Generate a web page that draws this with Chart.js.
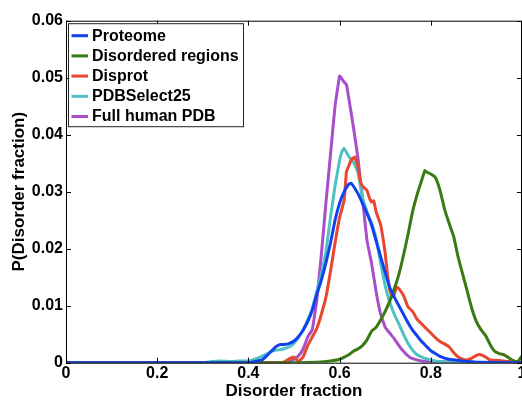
<!DOCTYPE html>
<html>
<head>
<meta charset="utf-8">
<script src="https://cdn.jsdelivr.net/npm/chart.js@4/dist/chart.umd.min.js"></script>
<style>
  html, body { margin: 0; padding: 0; background: #fff; overflow: hidden; }
  #wrap { width: 522px; height: 400px; overflow: hidden; position: relative; }
  #box { width: 540px; height: 410px; position: absolute; left: 0; top: 0; }
</style>
</head>
<body>
<div id="wrap"><div id="box"><canvas id="c"></canvas></div></div>
<script>
// --- data ---
const seriesNames = ['Proteome', 'Disordered regions', 'Disprot', 'PDBSelect25', 'Full human PDB'];
const seriesColors = ['#1242f0', '#3a7a12', '#e8462e', '#4dc2c2', '#a84ec9'];

const xTicks = [0, 0.2, 0.4, 0.6, 0.8, 1];
const xTickLabels = ['0', '0.2', '0.4', '0.6', '0.8', '1'];
const yTicks = [0, 0.01, 0.02, 0.03, 0.04, 0.05, 0.06];
const yTickLabels = ['0', '0.01', '0.02', '0.03', '0.04', '0.05', '0.06'];

const proteomeX = [0, 0.40, 0.42, 0.43, 0.44, 0.45, 0.46, 0.47, 0.48, 0.49, 0.50, 0.51, 0.52, 0.53, 0.54, 0.55, 0.56, 0.57, 0.58, 0.59, 0.60, 0.61, 0.62, 0.625, 0.63, 0.64, 0.65, 0.66, 0.67, 0.68, 0.69, 0.70, 0.71, 0.72, 0.73, 0.74, 0.75, 0.76, 0.77, 0.78, 0.79, 0.80, 0.81, 0.82, 0.83, 0.84, 0.85, 0.87, 0.90, 1.0];
const proteomeY = [0, 0, 0.0003, 0.0005, 0.0012, 0.002, 0.0028, 0.0032, 0.0032, 0.0034, 0.0038, 0.0046, 0.0057, 0.0072, 0.0092, 0.012, 0.0145, 0.0175, 0.021, 0.025, 0.028, 0.030, 0.0313, 0.0315, 0.031, 0.0297, 0.028, 0.0262, 0.0242, 0.0214, 0.0186, 0.0158, 0.0132, 0.0115, 0.0100, 0.0085, 0.007, 0.0057, 0.0047, 0.0037, 0.0029, 0.0021, 0.0016, 0.0011, 0.0008, 0.0006, 0.0005, 0.0003, 0.0001, 0];

const disorderedX = [0, 0.50, 0.55, 0.58, 0.60, 0.62, 0.63, 0.64, 0.65, 0.66, 0.67, 0.68, 0.69, 0.70, 0.71, 0.72, 0.73, 0.74, 0.75, 0.76, 0.77, 0.78, 0.787, 0.79, 0.80, 0.81, 0.82, 0.83, 0.84, 0.85, 0.86, 0.87, 0.88, 0.89, 0.90, 0.91, 0.92, 0.93, 0.94, 0.95, 0.96, 0.97, 0.98, 0.99, 1.0];
const disorderedY = [0, 0, 0.0001, 0.0003, 0.0006, 0.0014, 0.002, 0.0024, 0.003, 0.004, 0.0055, 0.0062, 0.0075, 0.009, 0.0108, 0.013, 0.0155, 0.0188, 0.0225, 0.0265, 0.0295, 0.032, 0.0337, 0.0335, 0.0331, 0.0325, 0.0303, 0.027, 0.0245, 0.0222, 0.0185, 0.0155, 0.0125, 0.0095, 0.0072, 0.0058, 0.0048, 0.0032, 0.002, 0.0016, 0.0014, 0.0009, 0.0004, 0.0001, 0.0012];

const disprotX = [0, 0.47, 0.48, 0.49, 0.50, 0.505, 0.51, 0.52, 0.53, 0.54, 0.55, 0.56, 0.57, 0.58, 0.59, 0.60, 0.61, 0.615, 0.62, 0.625, 0.633, 0.64, 0.645, 0.65, 0.66, 0.665, 0.67, 0.675, 0.68, 0.69, 0.70, 0.705, 0.71, 0.715, 0.72, 0.725, 0.73, 0.74, 0.75, 0.76, 0.77, 0.78, 0.79, 0.80, 0.81, 0.82, 0.83, 0.84, 0.85, 0.86, 0.87, 0.88, 0.89, 0.90, 0.91, 0.92, 0.93, 0.95, 0.97, 1.0];
const disprotY = [0, 0, 0.0002, 0.0007, 0.001, 0.0006, 0.0002, 0.001, 0.003, 0.0045, 0.006, 0.0085, 0.0115, 0.016, 0.021, 0.0255, 0.0285, 0.0335, 0.0345, 0.0355, 0.0361, 0.0345, 0.032, 0.031, 0.0302, 0.029, 0.0282, 0.0284, 0.0265, 0.0242, 0.0192, 0.0155, 0.0128, 0.0116, 0.012, 0.0133, 0.013, 0.0118, 0.0098, 0.009, 0.0076, 0.0068, 0.006, 0.0052, 0.0044, 0.0037, 0.0033, 0.0028, 0.0018, 0.001, 0.0006, 0.0005, 0.0008, 0.0013, 0.0014, 0.001, 0.0005, 0.0004, 0.0002, 0.0001];

const pdbSelectX = [0, 0.30, 0.32, 0.34, 0.36, 0.38, 0.40, 0.42, 0.44, 0.45, 0.46, 0.47, 0.48, 0.49, 0.50, 0.51, 0.52, 0.53, 0.54, 0.55, 0.56, 0.57, 0.58, 0.59, 0.60, 0.605, 0.61, 0.62, 0.63, 0.64, 0.65, 0.66, 0.67, 0.68, 0.69, 0.70, 0.71, 0.72, 0.73, 0.74, 0.75, 0.76, 0.77, 0.78, 0.79, 0.80, 0.82, 0.85, 1.0];
const pdbSelectY = [0, 0, 0.0002, 0.0003, 0.0002, 0.0003, 0.0003, 0.0008, 0.0015, 0.002, 0.0022, 0.0023, 0.0025, 0.0028, 0.0034, 0.0045, 0.0058, 0.0075, 0.0095, 0.0125, 0.0155, 0.0195, 0.0255, 0.031, 0.0355, 0.037, 0.0376, 0.0362, 0.0352, 0.0335, 0.029, 0.0265, 0.0245, 0.0218, 0.0175, 0.0135, 0.0106, 0.0085, 0.0068, 0.005, 0.0034, 0.0022, 0.0014, 0.001, 0.0007, 0.0005, 0.0002, 0.0001, 0];

const humanPdbX = [0, 0.48, 0.49, 0.50, 0.51, 0.52, 0.53, 0.54, 0.55, 0.56, 0.57, 0.58, 0.59, 0.60, 0.605, 0.61, 0.615, 0.62, 0.63, 0.64, 0.65, 0.66, 0.67, 0.68, 0.69, 0.70, 0.71, 0.72, 0.73, 0.74, 0.75, 0.76, 0.78, 0.80, 0.85, 1.0];
const humanPdbY = [0, 0, 0.0002, 0.0006, 0.0012, 0.0024, 0.0045, 0.0058, 0.011, 0.019, 0.028, 0.0365, 0.045, 0.0503, 0.0498, 0.0492, 0.0488, 0.0465, 0.0415, 0.036, 0.029, 0.0215, 0.0175, 0.0125, 0.0085, 0.0062, 0.0052, 0.0042, 0.003, 0.002, 0.0012, 0.0007, 0.0003, 0.0002, 0.0001, 0];

const seriesX = [proteomeX, disorderedX, disprotX, pdbSelectX, humanPdbX];
const seriesY = [proteomeY, disorderedY, disprotY, pdbSelectY, humanPdbY];

const FONT = '"Liberation Sans", Arial, Helvetica, sans-serif';

// frame with inward ticks on all four sides + legend box in the corner
const framePlugin = {
  id: 'frame',
  afterDraw(chart) {
    const { ctx, chartArea: a, scales } = chart;
    ctx.save();
    ctx.strokeStyle = '#000';
    ctx.lineWidth = 1;
    ctx.strokeRect(a.left + 0.5, a.top + 0.5, a.right - a.left - 1, a.bottom - a.top);
    ctx.beginPath();
    xTicks.forEach(v => {
      const px = Math.round(scales.x.getPixelForValue(v)) + 0.5;
      ctx.moveTo(px, a.bottom); ctx.lineTo(px, a.bottom - 5);
      ctx.moveTo(px, a.top); ctx.lineTo(px, a.top + 5);
    });
    yTicks.forEach(v => {
      const py = Math.round(scales.y.getPixelForValue(v)) + 0.5;
      ctx.moveTo(a.left, py); ctx.lineTo(a.left + 5, py);
      ctx.moveTo(a.right, py); ctx.lineTo(a.right - 5, py);
    });
    ctx.stroke();

    // legend
    const lx = a.left + 2, ly = a.top + 2.5, lw = 175, lh = 103;
    ctx.fillStyle = '#fff';
    ctx.fillRect(lx, ly, lw, lh);
    ctx.strokeStyle = '#222';
    ctx.strokeRect(lx + 0.5, ly + 0.5, lw, lh);
    ctx.font = 'bold 16px ' + FONT;
    ctx.textBaseline = 'middle';
    seriesNames.forEach((name, i) => {
      const y = ly + 12.5 + i * 20.2;
      ctx.strokeStyle = seriesColors[i];
      ctx.lineWidth = 3;
      ctx.beginPath();
      ctx.moveTo(lx + 3.5, y); ctx.lineTo(lx + 20, y);
      ctx.stroke();
      ctx.fillStyle = '#000';
      ctx.fillText(name, lx + 24, y + 0.5);
    });
    ctx.restore();
  }
};

const datasets = seriesNames.map((name, i) => ({
  label: name,
  data: seriesX[i].map((x, j) => ({ x: x, y: seriesY[i][j] })),
  borderColor: seriesColors[i],
  borderWidth: 3,
  pointRadius: 0,
  tension: 0.1,
  fill: false
}));

new Chart(document.getElementById('c'), {
  type: 'line',
  data: { datasets: datasets },
  options: {
    responsive: true,
    maintainAspectRatio: false,
    animation: false,
    layout: { padding: { top: 20.7, right: 18, left: 0, bottom: 0 } },
    plugins: { legend: { display: false }, tooltip: { enabled: false } },
    scales: {
      x: {
        type: 'linear', min: 0, max: 1,
        grid: { display: false, drawTicks: false },
        border: { display: false },
        afterBuildTicks: s => { s.ticks = xTicks.map(v => ({ value: v })); },
        afterFit: s => { s.height = 47.3; },
        ticks: {
          padding: 1, color: '#000',
          font: { family: FONT, size: 16, weight: 'bold' },
          callback: (v, i) => xTickLabels[i]
        },
        title: {
          display: true, text: 'Disorder fraction', color: '#000',
          font: { family: FONT, size: 17, weight: 'bold' },
          padding: { top: 2, bottom: 8 }
        }
      },
      y: {
        min: 0, max: 0.06,
        grid: { display: false, drawTicks: false },
        border: { display: false },
        afterBuildTicks: s => { s.ticks = yTicks.map(v => ({ value: v })); },
        afterFit: s => { s.width = 66; },
        ticks: {
          padding: 3, color: '#000',
          font: { family: FONT, size: 16, weight: 'bold' },
          callback: (v, i) => yTickLabels[i]
        },
        title: {
          display: true, text: 'P(Disorder fraction)', color: '#000',
          font: { family: FONT, size: 17, weight: 'bold' },
          padding: { top: 9, bottom: 4 }
        }
      }
    }
  },
  plugins: [framePlugin]
});
</script>
</body>
</html>
